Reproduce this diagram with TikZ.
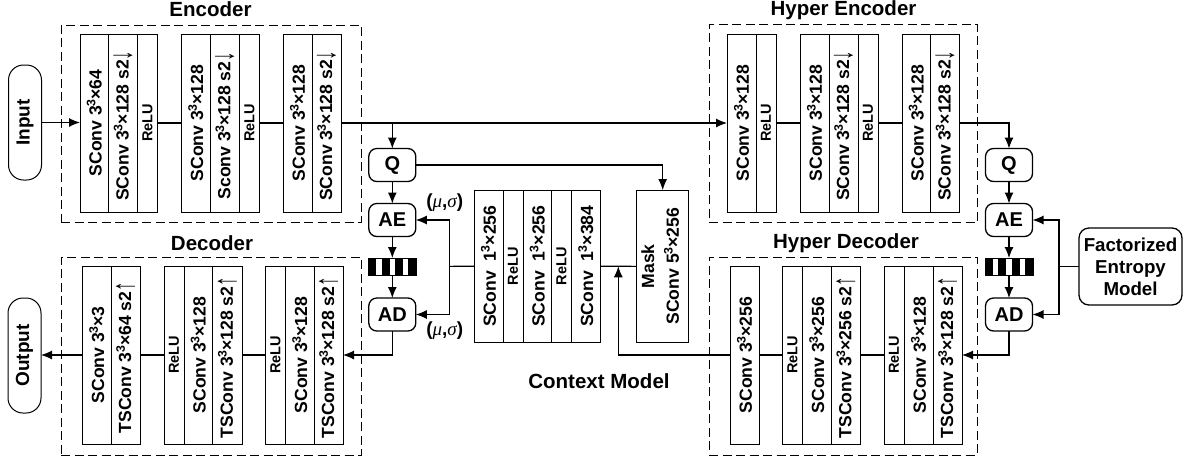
\documentclass[tikz,border=0pt]{standalone}
\usepackage{fontspec}
\setmainfont{Liberation Sans}
\newfontfamily\thinf{Liberation Sans}
\newfontfamily\greekf{Liberation Serif}
\usetikzlibrary{arrows.meta,calc}
\newcommand{\cellbox}[6]{%
  \path let \n1={#3-#2}, \n2={#5-#4} in
  node[cellstyle, minimum width=\n1 pt, minimum height=\n2 pt] (#1) at ({(#2+#3)/2},{(#4+#5)/2}) {\rotatebox{90}{#6}};}
\newcommand{\cubed}{\kern-0.5pt\textsuperscript{3}\kern-0.5pt}
\newcommand{\dn}{\makebox[15pt][l]{\raisebox{-3pt}{\scalebox{0.8}[1.35]{\normalfont\fontsize{24}{24}\selectfont\thinf ↓}}}}
\newcommand{\up}{\makebox[15pt][l]{\raisebox{-3pt}{\scalebox{0.8}[1.35]{\normalfont\fontsize{24}{24}\selectfont\thinf ↑}}}}
\newcommand{\mus}{(\greekf\itshape\mdseries μ\normalfont\bfseries,\greekf\itshape\mdseries σ\normalfont\bfseries)}
\tikzset{
  cellstyle/.style={draw=black, line width=0.9pt, inner sep=0pt, outer sep=0pt, font=\bfseries\fontsize{17.6}{19}\selectfont},
  group/.style={draw=black, dash pattern=on 9pt off 4.5pt, line width=1pt, inner sep=0pt, outer sep=0pt},
  pill/.style={draw=black, line width=1pt, rounded corners=15pt, inner sep=0pt, outer sep=0pt, font=\bfseries\fontsize{19}{21}\selectfont},
  opbox/.style={draw=black, line width=1.3pt, rounded corners=8pt, inner sep=0pt, outer sep=0pt, minimum width=47pt, minimum height=33pt, font=\bfseries\fontsize{20}{22}\selectfont},
  title/.style={inner sep=0pt, font=\bfseries\fontsize{20.5}{22}\selectfont},
  wire/.style={draw=black, line width=1.1pt},
  arr/.style={wire, -{Latex[length=11pt,width=9pt]}},
}
\newcommand{\rl}{\fontsize{14.5}{16}\selectfont ReLU}
\newcommand{\stripes}[3]{%
  \node[inner sep=0pt, outer sep=0pt, minimum width=48pt, minimum height=17pt] (#1) at (#2,#3) {};
  \foreach \i in {0,1,2,3}{\fill[black] ($(#1.south west)+(\i*13.3,0)$) rectangle ($(#1.north west)+(\i*13.3+8,0)$);}
  \draw[black,line width=0.6pt] (#1.south west) rectangle (#1.north east);
}
\begin{document}
\begin{tikzpicture}[x=1pt,y=-1pt]
\useasboundingbox (0,0) rectangle (1184,459);
% groups
\node[group, minimum width=300pt, minimum height=197pt] (genc) at (211,123.5) {};
\node[group, minimum width=300pt, minimum height=198pt] (gdec) at (211,356) {};
\node[group, minimum width=268pt, minimum height=198pt] (ghe) at (843,123.5) {};
\node[group, minimum width=268pt, minimum height=198pt] (ghd) at (843,356) {};
\node[title] (tenc) at (210.5,9.5) {Encoder};
\node[title] (tdec) at (212,243) {Decoder};
\node[title] (the) at (843.5,10) {Hyper Encoder};
\node[title] (thd) at (846,243) {Hyper Decoder};
\node[title] (tcm) at (599,381.5) {Context Model};
% pills
\node[pill, minimum width=33pt, minimum height=115pt] (input) at (25,122.5) {\rotatebox{90}{Input}};
\node[pill, minimum width=33pt, minimum height=115pt] (output) at (24.5,355.5) {\rotatebox{90}{Output}};
% encoder
\cellbox{e1}{80}{108.5}{34}{212}{SConv 3\cubed×64}
\cellbox{e2}{108.5}{137.5}{34}{212}{SConv 3\cubed×128 s2\dn}
\cellbox{e3}{137.5}{157.5}{34}{212}{\rl}
\cellbox{e4}{181.5}{210}{34}{212}{SConv 3\cubed×128}
\cellbox{e5}{210}{239.5}{34}{212}{Sconv 3\cubed×128 s2\dn}
\cellbox{e6}{239.5}{259.5}{34}{212}{\rl}
\cellbox{e7}{283}{312}{34}{212}{SConv 3\cubed×128}
\cellbox{e8}{312}{341}{34}{212}{SConv 3\cubed×128 s2\dn}
% decoder
\cellbox{d1}{82.5}{111}{266}{444}{SConv 3\cubed×3}
\cellbox{d2}{111}{140}{266}{444}{TSConv 3\cubed×64 s2\up}
\cellbox{d3}{164}{184}{266}{444}{\rl}
\cellbox{d4}{184}{212.5}{266}{444}{SConv 3\cubed×128}
\cellbox{d5}{212.5}{242}{266}{444}{TSConv 3\cubed×128 s2\up}
\cellbox{d6}{265.5}{285.5}{266}{444}{\rl}
\cellbox{d7}{285.5}{314}{266}{444}{SConv 3\cubed×128}
\cellbox{d8}{314}{343}{266}{444}{TSConv 3\cubed×128 s2\up}
% hyper encoder
\cellbox{h1}{727}{756}{34}{212}{SConv 3\cubed×128}
\cellbox{h2}{756}{776}{34}{212}{\rl}
\cellbox{h3}{800}{829}{34}{212}{SConv 3\cubed×128}
\cellbox{h4}{829}{858}{34}{212}{SConv 3\cubed×128 s2\dn}
\cellbox{h5}{858}{878}{34}{212}{\rl}
\cellbox{h6}{902}{930.5}{34}{212}{SConv 3\cubed×128}
\cellbox{h7}{930.5}{959.5}{34}{212}{SConv 3\cubed×128 s2\dn}
% hyper decoder
\cellbox{k1}{730}{759}{266}{444}{SConv 3\cubed×256}
\cellbox{k2}{782.5}{802.5}{266}{444}{\rl}
\cellbox{k3}{802.5}{831}{266}{444}{SConv 3\cubed×256}
\cellbox{k4}{831}{860.5}{266}{444}{TSConv 3\cubed×256 s2\up}
\cellbox{k5}{884}{904}{266}{444}{\rl}
\cellbox{k6}{904}{933}{266}{444}{SConv 3\cubed×128}
\cellbox{k7}{933}{962}{266}{444}{TSConv 3\cubed×128 s2\up}
% context
\cellbox{c1}{474}{503}{190}{342.5}{SConv~~1\cubed×256}
\cellbox{c2}{503}{523}{190}{342.5}{\rl}
\cellbox{c3}{523}{551.5}{190}{342.5}{SConv~~1\cubed×256}
\cellbox{c4}{551.5}{571.5}{190}{342.5}{\rl}
\cellbox{c5}{571.5}{600}{190}{342.5}{SConv~~1\cubed×384}
\path node[cellstyle, minimum width=52pt, minimum height=152.5pt] (mask) at (662.7,266.3) {\rotatebox{90}{\begin{tabular}{@{}c@{}}Mask\\[4pt]SConv 5\cubed×256\end{tabular}}};
% ops left
\node[opbox] (q1) at (392.3,165) {Q};
\node[opbox] (ae1) at (392.3,220) {AE};
\stripes{s1}{392.3}{266.5}
\node[opbox] (ad1) at (392.3,314.5) {AD};
% ops right
\node[opbox] (q2) at (1009,165) {Q};
\node[opbox] (ae2) at (1009,220) {AE};
\stripes{s2}{1009}{266.5}
\node[opbox] (ad2) at (1009,314.5) {AD};
\node[draw=black, line width=1.3pt, rounded corners=10pt, inner sep=0pt, outer sep=0pt, minimum width=103pt, minimum height=77pt, align=center, font=\bfseries\fontsize{18.7}{22}\selectfont] (fem) at (1130.5,266.5) {Factorized\\Entropy\\Model};
% labels
\node[inner sep=0pt, font=\bfseries\fontsize{19}{20}\selectfont] (mu1) at (444.7,203) {\mus};
\node[inner sep=0pt, font=\bfseries\fontsize{19}{20}\selectfont] (mu2) at (444.7,331) {\mus};
% helper coordinates
\coordinate (j1) at (392.3,123.5);
\coordinate (j2) at (449.5,266.3);
\coordinate (j3) at (618.3,266.3);
\coordinate (j4) at (1059,266.5);
% connectors
\draw[arr] (input.east) -- (input.east -| e1.west);
\draw[wire] (e3.east) -- (e4.west);
\draw[wire] (e6.east) -- (e7.west);
\draw[arr] (e8.east) -- (h1.west);
\draw[arr] (j1) -- (q1.north);
\draw[arr] (q1.south) -- (ae1.north);
\draw[arr] (ae1.south) -- (s1.north);
\draw[arr] (s1.south) -- (ad1.north);
\draw[arr] (q1.east) -| (mask.north);
\draw[wire] (c1.west) -- (j2);
\draw[arr] (j2) |- (ae1.east);
\draw[arr] (j2) |- (ad1.east);
\draw[wire] (c5.east) -- (mask.west);
\draw[arr] (k1.west) -| (j3);
\draw[arr] (ad1.south) |- (d8.east);
\draw[wire] (d6.west) -- (d5.east);
\draw[wire] (d3.west) -- (d2.east);
\draw[arr] (d1.west) -- (d1.west -| output.east);
\draw[wire] (h2.east) -- (h3.west);
\draw[wire] (h5.east) -- (h6.west);
\draw[arr] (h7.east) -| (q2.north);
\draw[arr] (q2.south) -- (ae2.north);
\draw[arr] (ae2.south) -- (s2.north);
\draw[arr] (s2.south) -- (ad2.north);
\draw[arr] (ad2.south) |- (k7.east);
\draw[wire] (k1.east) -- (k2.west);
\draw[wire] (k4.east) -- (k5.west);
\draw[wire] (fem.west) -- (j4);
\draw[arr] (j4) |- (ae2.east);
\draw[arr] (j4) |- (ad2.east);
\end{tikzpicture}
\end{document}
